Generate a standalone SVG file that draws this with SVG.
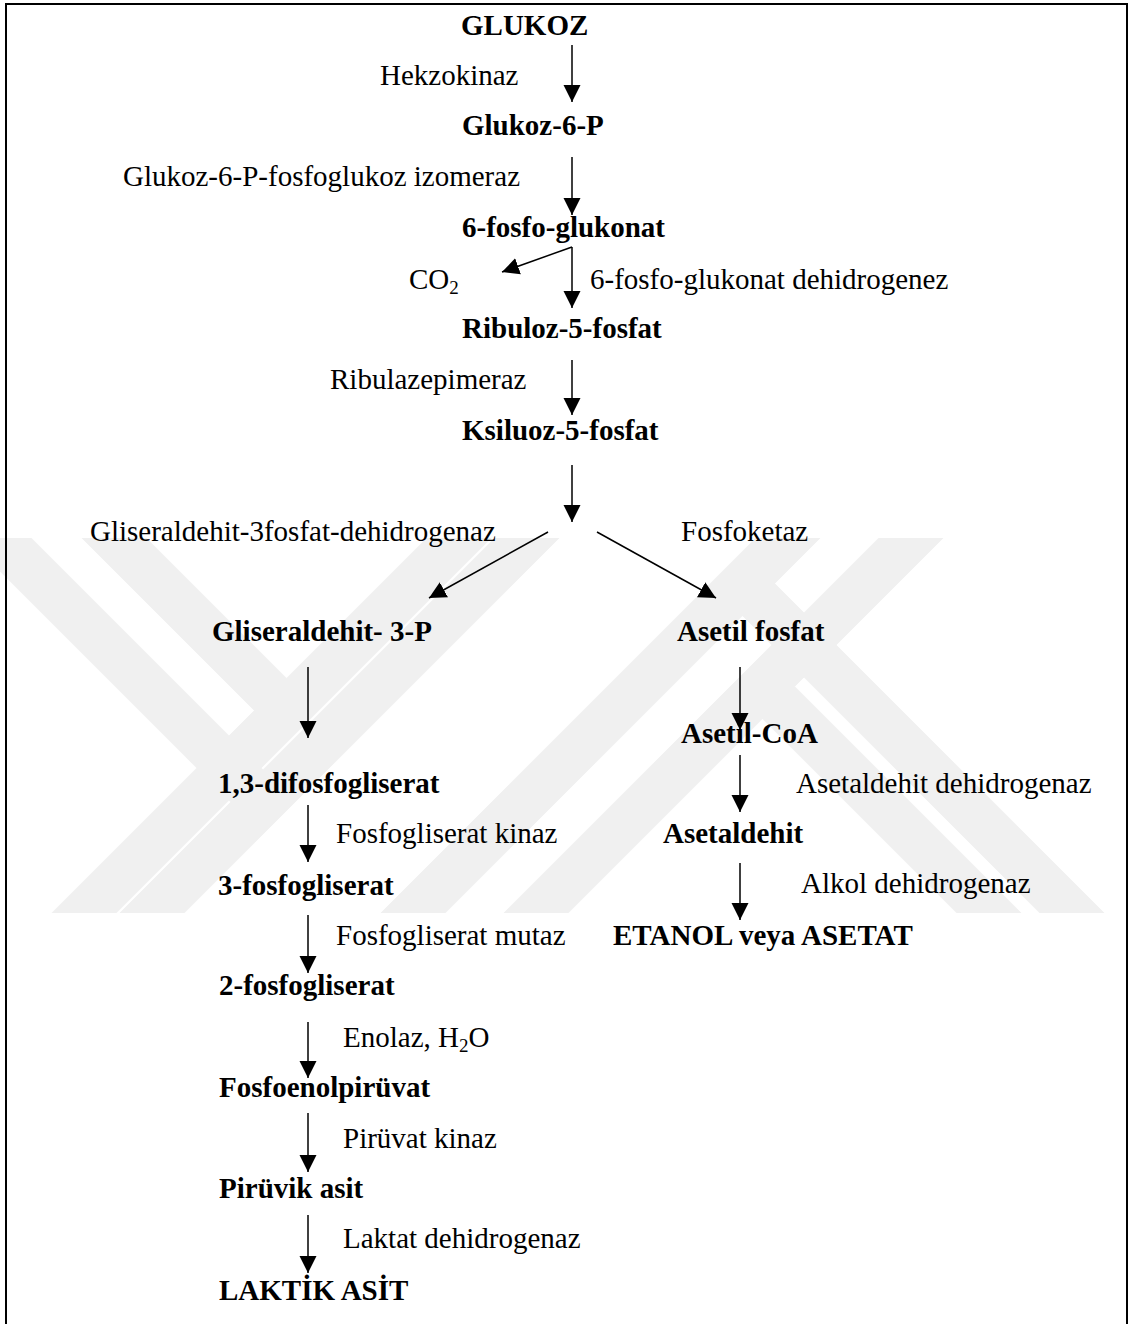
<svg xmlns="http://www.w3.org/2000/svg" width="1133" height="1324" viewBox="0 0 1133 1324">
  <style>
    text { font-family: "Liberation Serif", "Times New Roman", serif; font-size: 29px; fill: #000; }
    .b { font-weight: bold; }
    .sub { font-size: 19px; }
    .wm { stroke: #f0f0f0; stroke-width: 46; fill: none; stroke-linecap: butt; }
    .conn line { stroke: #000; stroke-width: 1.5; marker-end: url(#ah); }
  </style>
  <defs>
    <marker id="ah" markerUnits="userSpaceOnUse" markerWidth="18" markerHeight="18" viewBox="0 0 18 18" refX="17" refY="9" orient="auto">
      <path d="M0,0.5 L17,9 L0,17.5 Z" fill="#000"/>
    </marker>
    <clipPath id="wmclip">
      <rect x="0" y="538" width="1133" height="375"/>
    </clipPath>
  </defs>
  <rect x="0" y="0" width="1133" height="1324" fill="#fff"/>
  <g id="watermark" clip-path="url(#wmclip)">
    <line class="wm" x1="-50" y1="489" x2="263" y2="802"/>
    <line class="wm" x1="65" y1="489" x2="286" y2="710"/>
    <line class="wm" x1="509" y1="488" x2="34" y2="963"/>
    <line class="wm" x1="577" y1="488" x2="102" y2="963"/>
    <line class="wm" x1="838" y1="488" x2="363" y2="963"/>
    <line class="wm" x1="961" y1="488" x2="486" y2="963"/>
    <line class="wm" x1="762" y1="686" x2="1039" y2="963"/>
    <line class="wm" x1="742" y1="583" x2="1122" y2="963"/>
  </g>
  <g id="frame">
    <path d="M6,1324 L6,4 L1127,4 L1127,1324" fill="none" stroke="#000" stroke-width="2"/>
  </g>
  <g id="connectors" class="conn">
    <line x1="572" y1="45" x2="572" y2="102"/>
    <line x1="572" y1="157" x2="572" y2="215"/>
    <line x1="572" y1="247" x2="502" y2="272"/>
    <line x1="572" y1="247" x2="572" y2="308"/>
    <line x1="572" y1="360" x2="572" y2="415"/>
    <line x1="572" y1="465" x2="572" y2="522"/>
    <line x1="548" y1="532" x2="429" y2="598"/>
    <line x1="597" y1="532" x2="716" y2="598"/>
    <line x1="308" y1="667" x2="308" y2="738"/>
    <line x1="740" y1="667" x2="740" y2="730"/>
    <line x1="740" y1="755" x2="740" y2="812"/>
    <line x1="740" y1="863" x2="740" y2="920"/>
    <line x1="308" y1="805" x2="308" y2="862"/>
    <line x1="308" y1="915" x2="308" y2="973"/>
    <line x1="308" y1="1022" x2="308" y2="1078"/>
    <line x1="308" y1="1113" x2="308" y2="1172"/>
    <line x1="308" y1="1215" x2="308" y2="1273"/>
  </g>
  <g id="n-glukoz"><text class="b" x="461" y="35">GLUKOZ</text></g>
  <g id="l-hekzokinaz"><text x="380" y="85">Hekzokinaz</text></g>
  <g id="n-glukoz6p"><text class="b" x="462" y="135">Glukoz-6-P</text></g>
  <g id="l-izomeraz"><text x="123" y="186">Glukoz-6-P-fosfoglukoz izomeraz</text></g>
  <g id="n-fosfoglukonat"><text class="b" x="462" y="237">6-fosfo-glukonat</text></g>
  <g id="n-co2"><text x="409" y="289">CO<tspan class="sub" dy="5">2</tspan></text></g>
  <g id="l-glukonat-dh"><text x="590" y="289">6-fosfo-glukonat dehidrogenez</text></g>
  <g id="n-ribuloz"><text class="b" x="462" y="338">Ribuloz-5-fosfat</text></g>
  <g id="l-ribulazepimeraz"><text x="330" y="389">Ribulazepimeraz</text></g>
  <g id="n-ksiluoz"><text class="b" x="462" y="440">Ksiluoz-5-fosfat</text></g>
  <g id="l-g3p-dh"><text x="90" y="541">Gliseraldehit-3fosfat-dehidrogenaz</text></g>
  <g id="l-fosfoketaz"><text x="681" y="541">Fosfoketaz</text></g>
  <g id="n-g3p"><text class="b" x="212" y="641">Gliseraldehit- 3-P</text></g>
  <g id="n-asetilfosfat"><text class="b" x="677" y="641">Asetil fosfat</text></g>
  <g id="n-asetilcoa"><text class="b" x="681" y="743">Asetil-CoA</text></g>
  <g id="n-difosfogliserat"><text class="b" x="218" y="793">1,3-difosfogliserat</text></g>
  <g id="l-asetaldehit-dh"><text x="796" y="793">Asetaldehit dehidrogenaz</text></g>
  <g id="l-fg-kinaz"><text x="336" y="843">Fosfogliserat kinaz</text></g>
  <g id="n-asetaldehit"><text class="b" x="663" y="843">Asetaldehit</text></g>
  <g id="n-3fg"><text class="b" x="218" y="895">3-fosfogliserat</text></g>
  <g id="l-alkol-dh"><text x="801" y="893">Alkol dehidrogenaz</text></g>
  <g id="l-fg-mutaz"><text x="336" y="945">Fosfogliserat mutaz</text></g>
  <g id="n-etanol"><text class="b" x="613" y="945">ETANOL veya ASETAT</text></g>
  <g id="n-2fg"><text class="b" x="219" y="995">2-fosfogliserat</text></g>
  <g id="l-enolaz"><text x="343" y="1047">Enolaz, H<tspan class="sub" dy="5">2</tspan><tspan dy="-5">O</tspan></text></g>
  <g id="n-pep"><text class="b" x="219" y="1097">Fosfoenolpirüvat</text></g>
  <g id="l-piruvat-kinaz"><text x="343" y="1148">Pirüvat kinaz</text></g>
  <g id="n-piruvik"><text class="b" x="219" y="1198">Pirüvik asit</text></g>
  <g id="l-laktat-dh"><text x="343" y="1248">Laktat dehidrogenaz</text></g>
  <g id="n-laktik"><text class="b" x="219" y="1300">LAKTİK ASİT</text></g>
</svg>
